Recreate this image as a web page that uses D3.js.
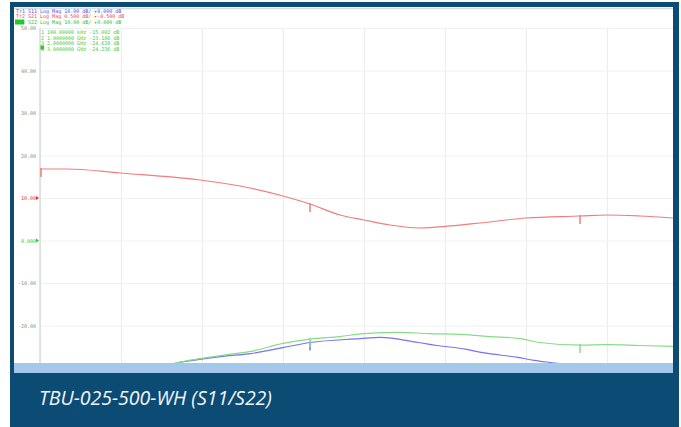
<!DOCTYPE html>
<html>
<head>
<meta charset="utf-8">
<script src="https://cdn.jsdelivr.net/npm/d3@7"></script>
<style>
  body { margin: 0; background: #fff; }
  svg { display: block; }
  .mono { font-family: "DejaVu Sans Mono", monospace; font-size: 5px; }
</style>
</head>
<body>
<svg id="chart"></svg>
<script>
// frequencies in GHz, values in dB
var s21Freq = [0.0001, 0.1, 0.296, 0.593, 0.778, 0.9, 1.0, 1.111, 1.2, 1.296, 1.407, 1.519, 1.63, 1.8, 2.0, 2.1, 2.222, 2.344];
var s21Val  = [-0.159, -0.159, -0.206, -0.288, -0.382, -0.476, -0.571, -0.700, -0.759, -0.818, -0.853, -0.829, -0.794, -0.735, -0.712, -0.700, -0.712, -0.735];

var s22Freq = [0.0001, 0.2, 0.4, 0.5, 0.59, 0.70, 0.78, 0.9, 1.0, 1.11, 1.2, 1.33, 1.44, 1.56, 1.67, 1.78, 1.85, 2.0, 2.1, 2.22, 2.35];
var s22Val  = [-40, -36, -31, -28.9, -27.8, -26.8, -26.1, -24.2, -23.2, -22.6, -21.9, -21.6, -21.9, -22.1, -22.6, -23.1, -24.0, -24.6, -24.5, -24.7, -24.9];

var s11Freq = [0.0001, 0.2, 0.4, 0.5, 0.59, 0.70, 0.78, 0.9, 1.0, 1.185, 1.26, 1.40, 1.47, 1.58, 1.64, 1.77, 1.83, 1.89, 2.0, 2.22, 2.35];
var s11Val  = [-40, -36, -31, -28.9, -28.0, -27.1, -26.6, -25.2, -24.0, -23.1, -22.8, -24.0, -24.7, -25.6, -26.4, -27.5, -28.2, -28.7, -29.5, -31, -32];

var markerFreq = [0.0001, 1.0, 2.0, 3.0];
var markerText = [
  "1  100.00000 kHz  -15.002 dB",
  "2  1.0000000 GHz  -23.186 dB",
  "3  2.0000000 GHz  -24.638 dB",
  "4  3.0000000 GHz  -24.236 dB"
];

var headerText = [
  "Tr1 S11 Log Mag 10.00 dB/ \u25B80.000 dB",
  "Tr2 S21 Log Mag 0.500 dB/ \u25B8-0.500 dB",
  "Tr3 S22 Log Mag 10.00 dB/ \u25B80.000 dB"
];

var gridTicks = [50, 40, 30, 20, 10, 0, -10, -20, -30];
var gridLabels = ["50.00", "40.00", "30.00", "20.00", "10.00", "0.000", "-10.00", "-20.00", ""];

var title = "TBU-025-500-WH (S11/S22)";

var screen = {width: 681, height: 427};
var blue = "#0c4b73";

var svg = d3.select("#chart")
  .attr("width", screen.width)
  .attr("height", screen.height);

// outer frame
svg.append("rect").attr("x", 10).attr("y", 2).attr("width", 669).attr("height", 425).attr("fill", blue);
svg.append("rect").attr("x", 14).attr("y", 7).attr("width", 659).attr("height", 356).attr("fill", "#fff");
svg.append("line").attr("x1", 14).attr("x2", 673).attr("y1", 8.5).attr("y2", 8.5)
  .attr("stroke", "#dcdcdc").attr("stroke-width", 1.5);

// scales: x in GHz, y in screen divisions (10 per div)
var xScale = d3.scaleLinear().domain([0, 3]).range([40, 850]);
var yScale = d3.scaleLinear().domain([-30, 50]).range([368, 28]);

var plot = {left: 40, right: 673, top: 28, bottom: 363};

svg.append("clipPath").attr("id", "clip")
  .append("rect")
  .attr("x", plot.left).attr("y", plot.top)
  .attr("width", plot.right - plot.left).attr("height", plot.bottom - plot.top);

// grid
var grid = svg.append("g").attr("clip-path", "url(#clip)");
grid.append("g")
  .attr("transform", "translate(0," + plot.bottom + ")")
  .call(d3.axisBottom(xScale).tickValues(d3.range(0, 3.01, 0.3)).tickSize(-(plot.bottom - plot.top)).tickFormat(""))
  .call(function(g) {
    g.select(".domain").remove();
    g.selectAll("line").attr("stroke", "#ededed").attr("stroke-width", 1.2);
  });
grid.append("g")
  .attr("transform", "translate(" + plot.left + ",0)")
  .call(d3.axisLeft(yScale).tickValues(gridTicks).tickSize(-(plot.right - plot.left)).tickFormat(""))
  .call(function(g) {
    g.select(".domain").remove();
    g.selectAll("line").attr("stroke", "#f0f0f0").attr("stroke-width", 1);
  });
svg.append("line").attr("x1", 40).attr("x2", 40).attr("y1", plot.top).attr("y2", plot.bottom)
  .attr("stroke", "#dadada").attr("stroke-width", 1.5);

// y labels
var labelColor = function(d) {
  if (d === 10) return "#f03030";
  if (d === 0) return "#22cc22";
  return "#8a8a8a";
};
var yAxis = svg.append("g")
  .attr("transform", "translate(37,0)")
  .call(d3.axisLeft(yScale).tickValues(gridTicks).tickSize(0).tickPadding(1)
    .tickFormat(function(d, i) { return gridLabels[i]; }));
yAxis.select(".domain").remove();
yAxis.selectAll("text")
  .attr("class", "mono")
  .style("font-size", "5px")
  .attr("fill", labelColor);

// reference arrows
var arrows = [{v: 10, c: "#f03030"}, {v: 0, c: "#22cc22"}];
svg.selectAll(".refArrow").data(arrows).enter().append("path")
  .attr("d", function(d) {
    var y = yScale(d.v);
    return "M36," + (y - 2) + "L39," + y + "L36," + (y + 2) + "Z";
  })
  .attr("fill", function(d) { return d.c; });

// traces, each with its own scale
var toScreen = function(refPos, refVal, perDiv) {
  return function(v) { return yScale(refPos + (v - refVal) / perDiv * 10); };
};
var traces = [
  {f: s11Freq, v: s11Val, color: "#7474f4", y: toScreen(0, 0, 10)},
  {f: s22Freq, v: s22Val, color: "#86dc86", y: toScreen(0, 0, 10)},
  {f: s21Freq, v: s21Val, color: "#f27c7c", y: toScreen(10, -0.5, 0.5)}
];

var traceG = svg.append("g").attr("clip-path", "url(#clip)");
traces.forEach(function(t) {
  var pts = t.f.map(function(f, i) { return [f, t.v[i]]; });
  var line = d3.line()
    .x(function(d) { return xScale(d[0]); })
    .y(function(d) { return t.y(d[1]); })
    .curve(d3.curveMonotoneX);
  traceG.append("path")
    .datum(pts)
    .attr("d", line)
    .attr("fill", "none")
    .attr("stroke", t.color)
    .attr("stroke-width", 1.2);

  // marker ticks
  var interp = function(f) {
    var i = d3.bisectLeft(t.f, f);
    if (i <= 0) return t.v[0];
    if (i >= t.f.length) return t.v[t.f.length - 1];
    var a = t.f[i - 1], b = t.f[i];
    return t.v[i - 1] + (t.v[i] - t.v[i - 1]) * (f - a) / (b - a);
  };
  traceG.selectAll(null).data(markerFreq.slice(0, 3)).enter().append("line")
    .attr("x1", function(f) { return xScale(f) + (f < 0.01 ? 1 : 0); })
    .attr("x2", function(f) { return xScale(f) + (f < 0.01 ? 1 : 0); })
    .attr("y1", function(f) { return t.y(interp(f)) - 1; })
    .attr("y2", function(f) { return t.y(interp(f)) + 8; })
    .attr("stroke", t.color)
    .attr("stroke-width", 1.5);
});

// header lines
var headColors = ["#5050f0", "#f04848", "#30c030"];
svg.append("rect").attr("x", 15).attr("y", 19.5).attr("width", 9).attr("height", 5).attr("fill", "#22cc22");
svg.selectAll(".head").data(headerText).enter().append("text")
  .attr("class", "mono")
  .attr("x", 16)
  .attr("y", function(d, i) { return 12.5 + i * 5.5; })
  .attr("fill", function(d, i) { return headColors[i]; })
  .text(function(d) { return d; });

// marker table
svg.append("rect").attr("x", 40.5).attr("y", 45.5).attr("width", 3.5).attr("height", 4).attr("fill", "#22cc22");
svg.selectAll(".mk").data(markerText).enter().append("text")
  .attr("class", "mono")
  .attr("x", 41)
  .attr("y", function(d, i) { return 34 + i * 5.6; })
  .attr("fill", "#40cc40")
  .text(function(d) { return d; });

// bottom band and caption
svg.append("rect").attr("x", 14).attr("y", 363).attr("width", 659).attr("height", 10).attr("fill", "#a3c8ea");
svg.append("text")
  .attr("x", 39)
  .attr("y", 405)
  .attr("fill", "#f2f6fa")
  .style("font-family", "'Open Sans', sans-serif")
  .style("font-style", "italic")
  .style("font-size", "19.5px")
  .text(title);
</script>
</body>
</html>
